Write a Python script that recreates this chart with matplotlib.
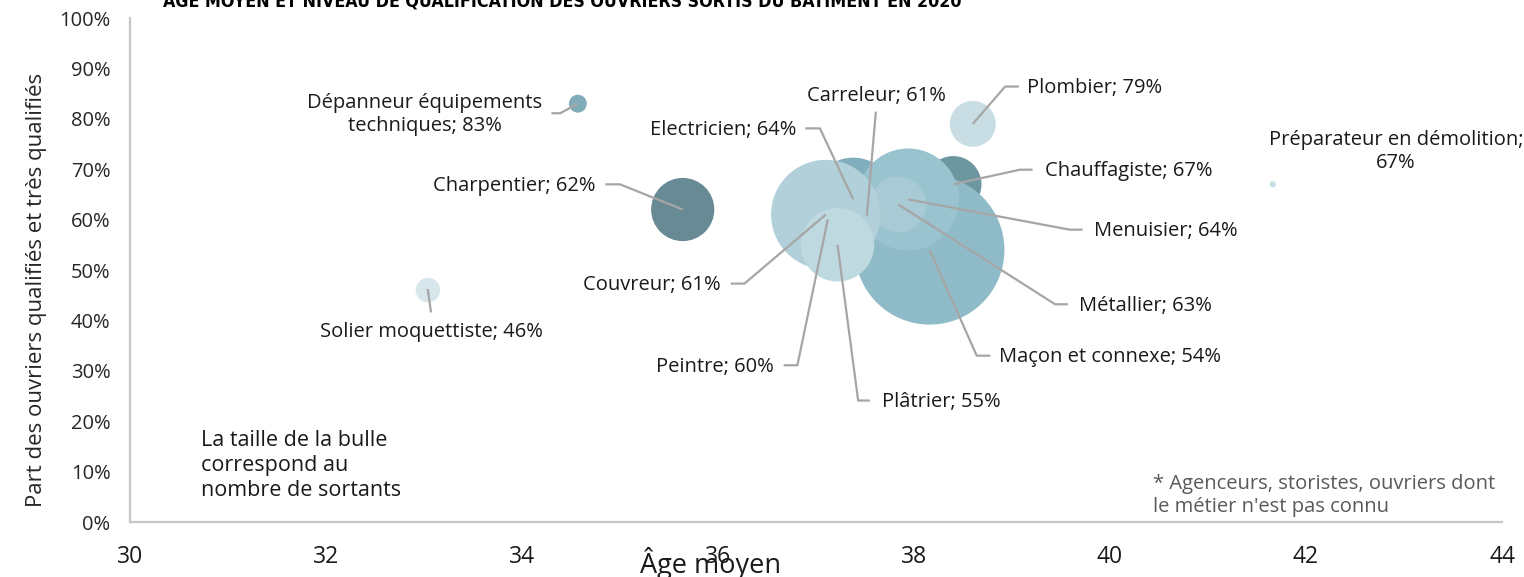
import numpy as np
import matplotlib.pyplot as plt

plt.rcParams['font.family'] = ['Open Sans', 'DejaVu Sans']

# métiers, dans l'ordre de tracé (arrière -> avant)
metiers = ["Préparateur en démolition", "Solier moquettiste", "Dépanneur équipements techniques",
           "Charpentier", "Plombier", "Chauffagiste", "Maçon et connexe", "Carreleur",
           "Electricien", "Peintre", "Menuisier", "Métallier", "Couvreur", "Plâtrier"]
age_moyen = [41.66, 33.04, 34.57, 35.64, 38.60, 38.40, 38.16, 37.52,
             37.38, 37.12, 37.94, 37.84, 37.10, 37.22]
part_qualif = [67, 46, 83, 62, 79, 67, 54, 61, 64, 60, 64, 63, 61, 55]
sortants = [10, 150, 80, 1000, 530, 800, 5600, 400, 1750, 900, 2600, 780, 3000, 1350]
couleurs = ["#c9dfe6", "#d6e6eb", "#80abb8", "#678a94", "#c8dee4", "#6c96a0", "#8fbbc9",
            "#9fc5d0", "#80aebc", "#a9ccd6", "#99c3cf", "#a7cad4", "#b2d0da", "#bfd9e0"]

# position des étiquettes : (x texte, y texte, alignement, x début trait, x coude)
etiquettes = {
    "Dépanneur équipements techniques": (33.01, 80.8, "center", 34.30, 34.39),
    "Charpentier": (34.75, 66.7, "right", 34.85, 35.00),
    "Solier moquettiste": (33.08, 37.7, "center", None, None),
    "Electricien": (36.80, 77.8, "right", 36.89, 37.04),
    "Carreleur": (37.62, 84.5, "center", None, None),
    "Plombier": (39.15, 86.1, "left", 39.07, 38.93),
    "Préparateur en démolition": (42.92, 73.6, "center", None, None),
    "Chauffagiste": (39.34, 69.6, "left", 39.21, 39.08),
    "Menuisier": (39.84, 57.7, "left", 39.72, 39.59),
    "Métallier": (39.68, 42.9, "left", 39.57, 39.44),
    "Maçon et connexe": (38.87, 32.7, "left", 38.78, 38.64),
    "Couvreur": (36.03, 47.0, "right", 36.13, 36.27),
    "Peintre": (36.57, 30.8, "right", 36.67, 36.81),
    "Plâtrier": (37.67, 23.8, "left", 37.55, 37.43),
}

fig = plt.figure(figsize=(15.24, 5.77), dpi=100)
ax = fig.add_axes([130 / 1524, 1 - 522 / 577, 1372 / 1524, 504 / 577])

taille = 2.07 * np.array(sortants)
ax.scatter(age_moyen, part_qualif, s=taille, c=couleurs, linewidths=0, zorder=2)

gris = "#a6a6a6"
for nom, x, y in zip(metiers, age_moyen, part_qualif):
    tx, ty, ha, sx0, sx1 = etiquettes[nom]
    if nom == "Préparateur en démolition":
        txt = f"Préparateur en démolition;\n{y}%"
    elif nom == "Dépanneur équipements techniques":
        txt = f"Dépanneur équipements\ntechniques; {y}%"
    else:
        txt = f"{nom}; {y}%"
    ax.text(tx, ty, txt, ha=ha, va="center", fontsize=14.5, color="#1a1a1a",
            linespacing=1.2, zorder=4)
    if sx0 is not None:
        ly = ty + 0.3
        ax.plot([sx0, sx1, x], [ly, ly, y], color=gris, lw=1.6, zorder=3,
                solid_capstyle="butt")

# traits verticaux sous/au-dessus des étiquettes centrées
ax.plot([33.07, 33.04], [41.8, 46], color=gris, lw=1.6, zorder=3)
ax.plot([37.61, 37.52], [81.2, 61], color=gris, lw=1.6, zorder=3)

ax.set_xlim(30, 44)
ax.set_ylim(0, 100)
ax.set_xticks(np.arange(30, 45, 2))
ax.set_yticks(np.arange(0, 101, 10))
ax.set_yticklabels([f"{v}%" for v in range(0, 101, 10)])
ax.tick_params(axis="y", length=0, pad=14, labelsize=14.5, labelcolor="#262626")
ax.tick_params(axis="x", length=0, pad=16.5, labelsize=16.5, labelcolor="#1a1a1a")
for s in ["top", "right"]:
    ax.spines[s].set_visible(False)
for s in ["left", "bottom"]:
    ax.spines[s].set_color("#c8c8c8")
    ax.spines[s].set_linewidth(1.6)

ax.set_ylabel("Part des ouvriers qualifiés et très qualifiés", fontsize=16,
              color="#262626")
ax.yaxis.set_label_coords(-0.0605, 0.46)
fig.text(711 / 1524, 1 - 564 / 577, "Âge moyen", ha="center", va="center",
         fontsize=19.5, color="#1a1a1a")

ax.text(30.72, 11.3, "La taille de la bulle\ncorrespond au\nnombre de sortants",
        ha="left", va="center", fontsize=15.5, color="#1a1a1a", linespacing=1.25)
ax.text(40.44, 5.2, "* Agenceurs, storistes, ouvriers dont\nle métier n'est pas connu",
        ha="left", va="center", fontsize=14.5, color="#595959", linespacing=1.2)

fig.text(163 / 1524, 1 - 8 / 577,
         "ÂGE MOYEN ET NIVEAU DE QUALIFICATION DES OUVRIERS SORTIS DU BÂTIMENT EN 2020",
         ha="left", va="baseline", fontsize=12.8, fontweight="bold",
         family="DejaVu Sans", fontstretch="condensed", color="#000000")

fig.savefig("out.png", dpi=100)
